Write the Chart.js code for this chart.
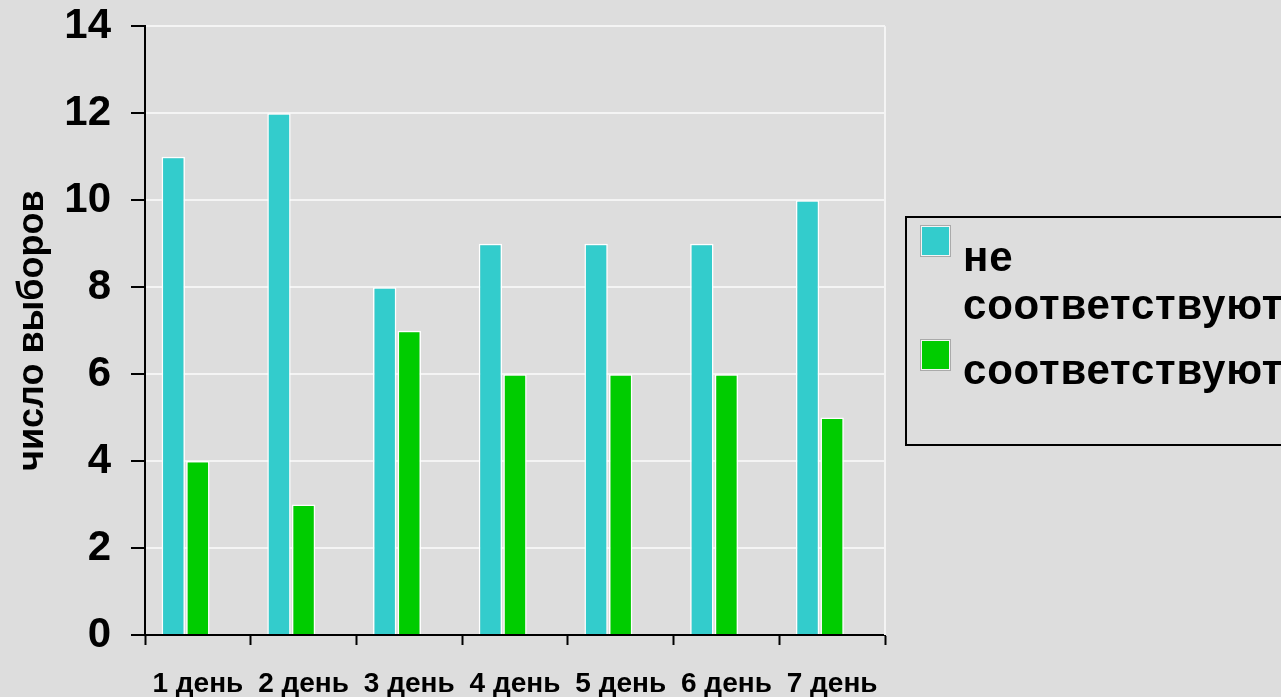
<!DOCTYPE html>
<html lang="ru">
<head>
<meta charset="utf-8">
<title>число выборов по дням</title>
<script src="https://cdn.jsdelivr.net/npm/chart.js@4.4.1/dist/chart.umd.min.js"></script>
<style>
  html, body { margin: 0; padding: 0; background: #dddddd; overflow: hidden; }
  #wrap { position: relative; width: 1281px; height: 697px; }
  #chart { position: absolute; left: 0; top: 0; }
  #legend {
    position: absolute; left: 905px; top: 216px; width: 420px; height: 226px;
    border: 2px solid #000; box-sizing: content-box;
    font-family: "Liberation Sans", Arial, sans-serif; font-weight: bold;
    font-size: 42px; line-height: 48px; color: #000; letter-spacing: 0.8px;
  }
  .item { position: absolute; left: 56px; width: 360px; }
  .sw {
    position: absolute; left: -42px; width: 27px; height: 28px;
    border: 1px solid #f4f4f4; outline: 1px solid #aaaaaa; outline-offset: 0;
  }
</style>
</head>
<body>
<div id="wrap">
  <canvas id="chart" width="1281" height="697"></canvas>
  <div id="legend"></div>
</div>
<script>
// Days on the x axis
const days = ['1 день', '2 день', '3 день', '4 день', '5 день', '6 день', '7 день'];
// Number of choices per day
const notMatching = [11, 12, 8, 9, 9, 9, 10];
const matching = [4, 3, 7, 6, 6, 6, 5];
// Series names
const seriesNames = ['не соответствуют', 'соответствуют'];
// Y axis range and step
const yMin = 0, yMax = 14, yStep = 2;
const yTitle = 'число выборов';

const FONT = '"Liberation Sans", Arial, sans-serif';

// Light border along the right side of the plot area
const plotEdge = {
  id: 'plotEdge',
  beforeDatasetsDraw(chart) {
    const { ctx, chartArea: a } = chart;
    ctx.save();
    ctx.strokeStyle = '#f4f4f4';
    ctx.lineWidth = 2;
    ctx.beginPath();
    ctx.moveTo(a.right, a.top);
    ctx.lineTo(a.right, a.bottom);
    ctx.stroke();
    ctx.restore();
  }
};

// Boxed legend on the right, built from the chart's datasets
const boxLegend = {
  id: 'boxLegend',
  afterUpdate(chart) {
    const el = document.getElementById('legend');
    el.innerHTML = '';
    const tops = [15, 128];
    const swTops = [8, 122];
    chart.data.datasets.filter(d => d.label).forEach((d, i) => {
      const item = document.createElement('div');
      item.className = 'item';
      item.style.top = tops[i] + 'px';
      const sw = document.createElement('div');
      sw.className = 'sw';
      sw.style.background = d.backgroundColor;
      sw.style.top = (swTops[i] - tops[i]) + 'px';
      item.appendChild(sw);
      item.appendChild(document.createTextNode(d.label));
      el.appendChild(item);
    });
  }
};

new Chart(document.getElementById('chart'), {
  type: 'bar',
  data: {
    labels: days,
    datasets: [
      { label: seriesNames[0], data: notMatching, backgroundColor: '#33cccc',
        borderColor: '#ffffff', borderWidth: 1.5 },
      { label: seriesNames[1], data: matching, backgroundColor: '#00cc00',
        borderColor: '#ffffff', borderWidth: 1.5 },
      // empty slot keeps each pair to the left of its category
      { label: '', data: days.map(() => null), backgroundColor: 'rgba(0,0,0,0)' }
    ]
  },
  options: {
    responsive: false,
    animation: false,
    devicePixelRatio: 1,
    layout: { padding: { top: 26, right: 396, bottom: 0, left: 0 } },
    categoryPercentage: 0.698,
    barPercentage: 0.95,
    plugins: {
      legend: { display: false },
      tooltip: { enabled: false }
    },
    scales: {
      x: {
        offset: true,
        afterFit(s) { s.height = 62; },
        border: { display: true, color: '#000', width: 2 },
        grid: {
          offset: true, drawOnChartArea: false, drawTicks: true,
          tickLength: 10, tickColor: '#000', tickWidth: 2
        },
        ticks: {
          color: '#000', padding: 22, maxRotation: 0,
          font: { family: FONT, size: 28, weight: 'bold' }
        }
      },
      y: {
        min: yMin, max: yMax,
        afterFit(s) { s.width = 145; },
        border: { display: true, color: '#000', width: 2 },
        grid: {
          color: '#f4f4f4', lineWidth: 2,
          drawTicks: true, tickLength: 14, tickColor: '#000', tickWidth: 2
        },
        ticks: {
          stepSize: yStep, color: '#000', padding: 20,
          font: { family: FONT, size: 42, weight: 'bold', lineHeight: 0.3 }
        },
        title: {
          display: true, text: yTitle, color: '#000',
          padding: { top: 11, bottom: 0 },
          font: { family: FONT, size: 36, weight: 'bold' }
        }
      }
    }
  },
  plugins: [plotEdge, boxLegend]
});
</script>
</body>
</html>
